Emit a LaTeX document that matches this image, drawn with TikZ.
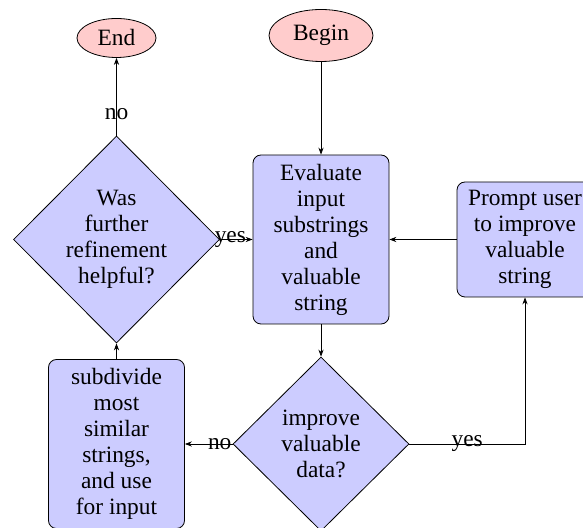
\documentclass[tikz,border=0pt]{standalone}
\usepackage{fontspec}
\setmainfont{Liberation Serif}
\usetikzlibrary{shapes.geometric,arrows.meta}
\begin{document}
\begin{tikzpicture}[x=0.5pt,y=-0.5pt,
  font=\fontsize{11.7pt}{13pt}\selectfont,
  term/.style={ellipse,draw,fill=red!20,inner sep=0pt},
  procbox/.style={rectangle,rounded corners=4pt,draw,fill=blue!20,align=center,minimum width=68pt,inner sep=0pt},
  decision/.style={diamond,draw,fill=blue!20,align=center,inner sep=0pt},
  arr/.style={-{Stealth[length=3.5pt,width=2.6pt]}},
  lbl/.style={inner sep=0pt}]
\useasboundingbox (0,0) rectangle (583,528);
\node[term, minimum width=39.5pt, minimum height=19.5pt] (end) at (116.5,38) {End};
\node[term, minimum width=52pt, minimum height=26pt] (begin) at (321,35.5) {Begin};
\node[procbox, minimum height=84.5pt] (eval) at (321,239.5) {Evaluate\\input\\substrings\\and\\valuable\\string};
\node[procbox, minimum height=57.5pt] (prompt) at (525,239.5) {Prompt user\\to improve\\valuable\\string};
\node[decision, minimum width=103pt, minimum height=103.5pt] (refine) at (116.5,239.5) {Was\\further\\refinement\\helpful?};
\node[decision, minimum width=88pt, minimum height=87pt] (improve) at (321,444) {improve\\valuable\\data?};
\node[procbox, minimum height=84.5pt] (subdiv) at (116.5,444) {subdivide\\most\\similar\\strings,\\and use\\for input};
\draw[arr] (begin) -- (eval);
\draw[arr] (eval) -- (improve);
\draw[arr] (prompt.west) -- (eval.east);
\draw[arr] (improve.west) -- node[lbl,pos=0.27]{no} (subdiv.east);
\draw[arr] (improve.east) -| node[lbl,pos=0.25]{yes} (prompt.south);
\draw[arr] (refine.east) -- node[lbl,pos=0.32]{yes} (eval.west);
\draw[arr] (refine.north) -- node[lbl,pos=0.28]{no} (end.south);
\draw[arr] (subdiv.north) -- (refine.south);
\end{tikzpicture}
\end{document}
